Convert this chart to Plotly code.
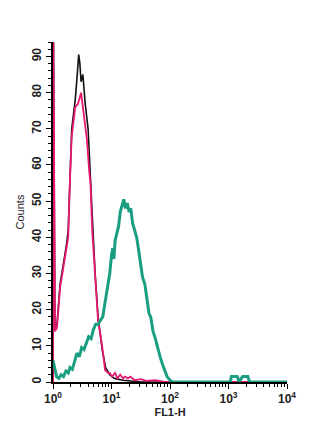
import plotly.graph_objects as go

# FL1-H channel positions and counts
black_x = [1.0, 1.0, 1.08, 1.17, 1.32, 1.45, 1.55, 1.70, 1.82, 1.95, 2.09, 2.24, 2.40, 2.57, 2.75, 2.88,
           3.02, 3.24, 3.55, 3.98, 4.17, 4.47, 4.79, 5.25, 5.89, 6.92, 7.94, 9.33, 11.2, 15.8, 31.6, 10000]
black_y = [0, 120, 15, 16, 27, 31, 34, 38, 42, 57, 70, 74, 78, 84, 90.5, 88,
           83, 85, 77, 70, 64, 55, 43, 30, 18, 9, 4, 2, 1, 0.5, 0, 0]

pink_x = [1.0, 1.0, 1.08, 1.17, 1.32, 1.45, 1.55, 1.70, 1.82, 1.95, 2.09, 2.24, 2.40, 2.69, 2.88, 3.02,
          3.24, 3.55, 3.80, 4.17, 4.37, 4.68, 5.25, 5.89, 6.92, 7.76, 8.71, 9.33, 10.2, 11.5, 12.6, 14.1,
          15.8, 17.0, 19.1, 20.9, 25.1, 31.6, 39.8, 56.2, 79.4, 10000]
pink_y = [0, 120, 14, 15, 26, 30, 33, 37, 40, 56, 68, 72, 76, 77, 79, 80,
          76, 70, 67, 58, 55, 42, 28, 17, 10, 3.3, 2.5, 2.5, 1.5, 2.5, 1, 2,
          1, 1.5, 1, 1.5, 0.5, 0.8, 0.3, 0.5, 0, 0]

green_x = [1.00, 1.07, 1.15, 1.26, 1.38, 1.51, 1.66, 1.82, 1.95, 2.14, 2.34, 2.57, 2.82, 3.09, 3.39, 3.72,
           4.07, 4.47, 4.90, 5.37, 5.89, 6.46, 7.08, 7.59, 8.13, 8.71, 9.33, 10.0, 10.5, 11.0, 11.5, 12.3,
           13.2, 14.1, 15.1, 16.2, 17.4, 18.6, 20.0, 21.4, 22.9, 25.1, 26.9, 28.8, 31.6, 33.9, 37.2, 39.8,
           43.7, 46.8, 51.3, 56.2, 61.7, 67.6, 74.1, 81.3, 89.1, 100, 112, 1072, 1122, 1413, 1514, 1738,
           2138, 2291, 10000]
green_y = [6, 4, 1.5, 1, 2, 1.5, 3, 2.5, 4, 3.5, 6, 8, 7, 9.5, 9, 11,
           12.5, 12, 14.5, 16, 16, 17, 18, 21, 24, 27, 30, 35, 37, 34, 39, 41,
           43, 47, 49, 50.5, 48, 49.5, 47, 48, 44, 42, 40, 37, 33, 29, 27, 24,
           19, 18, 14, 12, 9, 7, 5, 3, 1.5, 0.5, 0, 0, 1.5, 1.5, 0, 1.5,
           1.5, 0, 0]

y_ticks = [0, 10, 20, 30, 40, 50, 60, 70, 80, 90]
x_ticks = [1, 10, 100, 1000, 10000]
x_ticktext = ["10<sup>0</sup>", "10<sup>1</sup>", "10<sup>2</sup>", "10<sup>3</sup>", "10<sup>4</sup>"]
x_minor = [m * d for d in [1, 10, 100, 1000] for m in range(2, 10)]

fig = go.Figure()
fig.add_trace(go.Scatter(x=black_x, y=black_y, mode="lines", line=dict(color="#111111", width=1.6)))
fig.add_trace(go.Scatter(x=pink_x, y=pink_y, mode="lines", line=dict(color="#e8186e", width=1.8)))
fig.add_trace(go.Scatter(x=green_x, y=green_y, mode="lines", line=dict(color="#1a9e82", width=3)))

fnt = dict(family="Liberation Sans, Arial", size=12, color="#222222", weight="bold")
tfnt = dict(family="Liberation Sans, Arial", size=11, color="#222222", weight="bold")

fig.update_layout(
    width=320, height=443,
    margin=dict(l=53, r=33, t=42, b=61),
    paper_bgcolor="white", plot_bgcolor="white",
    showlegend=False,
    xaxis=dict(
        type="log", range=[0, 4],
        tickmode="array", tickvals=x_ticks, ticktext=x_ticktext,
        ticks="outside", ticklen=5, tickwidth=1.2, tickcolor="black",
        minor=dict(tickmode="array", tickvals=x_minor, ticks="outside", ticklen=3, tickwidth=1, tickcolor="black", showgrid=False),
        showline=True, linecolor="black", linewidth=1.5,
        showgrid=False, zeroline=False,
        tickfont=fnt,
        title=dict(text="FL1-H", font=tfnt, standoff=0),
    ),
    yaxis=dict(
        range=[0, 94],
        tickmode="array", tickvals=y_ticks, tickangle=-90,
        ticks="outside", ticklen=5, tickwidth=1.2, tickcolor="black",
        minor=dict(dtick=2, ticks="outside", ticklen=3, tickwidth=1, tickcolor="black", showgrid=False),
        showline=True, linecolor="black", linewidth=1.5,
        showgrid=False, zeroline=False,
        tickfont=fnt,
        title=dict(text="Counts", font=dict(family="Liberation Sans, Arial", size=11, color="#222222"), standoff=4),
    ),
)

fig.write_html("out.html")
